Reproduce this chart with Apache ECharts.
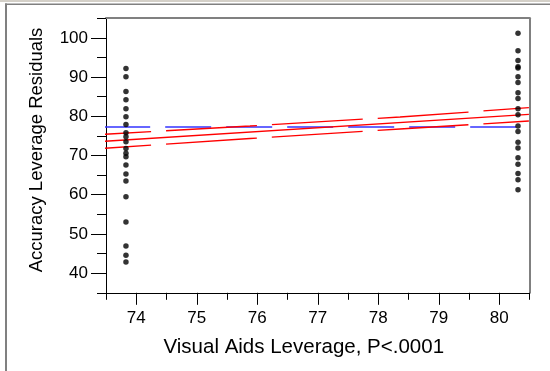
<!DOCTYPE html>
<html>
<head>
<meta charset="utf-8">
<script src="https://cdn.jsdelivr.net/npm/echarts@6/dist/echarts.min.js"></script>
<style>
html,body{margin:0;padding:0;background:#fff;}
#c{width:550px;height:371px;}
</style>
</head>
<body>
<div id="c"></div>
<script>
// ---- data ----
const xMajorTicks = [74, 75, 76, 77, 78, 79, 80];
const xMinorTicks = [73.5, 74.5, 75.5, 76.5, 77.5, 78.5, 79.5, 80.5];
const yMajorTicks = [40, 50, 60, 70, 80, 90, 100];
const yMinorTicks = [35, 45, 55, 65, 75, 85, 95, 105];

const leftGroupX = 73.83;
const leftGroupY = [92.2, 90.1, 86.3, 84.2, 81.9, 79.9, 77.9, 75.8, 74.8, 73.5, 71.8, 70.6, 69.7, 67.6, 65.3, 63.5, 59.5, 53.05, 46.9, 44.6, 42.85];
const rightGroupX = 80.31;
const rightGroupY = [101.15, 96.7, 94.2, 92.6, 92.3, 90.1, 88.6, 86.0, 84.5, 81.9, 80.4, 77.5, 76.1, 73.4, 71.9, 69.4, 67.8, 65.4, 63.8, 61.3];

const meanX = [73.47, 80.5];
const meanY = [77.25, 77.25];
const fitX = [73.47, 80.49];
const fitY = [73.62, 80.5];
const bandX = [73.47, 75.88, 78.36, 80.49];
const upperY = [75.41, 77.52, 79.82, 82.19];
const lowerY = [71.84, 74.33, 76.76, 78.80];

const xTitle = 'Visual Aids Leverage, P<.0001';
const yTitle = 'Accuracy Leverage Residuals';

// ---- build ----
const zip = (xs, ys) => ys.map((y, i) => [Array.isArray(xs) ? xs[i] : xs, y]);
const FONT = 'Liberation Sans, Arial, sans-serif';

const chart = echarts.init(document.getElementById('c'), null, {renderer: 'canvas'});
const xRange = {min: 73.5, max: 80.5};
const yRange = {min: 35, max: 105};

chart.setOption({
  animation: false,
  backgroundColor: '#ffffff',
  grid: {left: 106, right: 20.5, top: 18.2, bottom: 78.2, containLabel: false},
  graphic: [
    {type: 'rect', shape: {x: 0, y: 0, width: 550, height: 2}, style: {fill: '#d4d0c8'}, silent: true},
    {type: 'rect', shape: {x: 5, y: 3.5, width: 545, height: 1.5}, style: {fill: '#808080'}, silent: true},
    {type: 'rect', shape: {x: 5, y: 3.5, width: 2, height: 368}, style: {fill: '#808080'}, silent: true}
  ],
  xAxis: [
    {
      type: 'value', position: 'bottom', ...xRange,
      splitLine: {show: false},
      axisLine: {show: true, lineStyle: {color: '#000', width: 1}},
      axisTick: {show: true, customValues: xMajorTicks, length: 12, lineStyle: {color: '#000', width: 1}},
      axisLabel: {customValues: xMajorTicks, margin: 17, color: '#000', fontSize: 17, fontFamily: FONT},
      name: xTitle, nameLocation: 'middle', nameGap: 44,
      nameTextStyle: {color: '#000', fontSize: 20.5, fontFamily: FONT, padding: [0, 28, 0, 0]}
    },
    {
      type: 'value', position: 'bottom', ...xRange,
      splitLine: {show: false},
      axisLine: {show: false},
      axisTick: {show: true, customValues: xMinorTicks, length: 7, lineStyle: {color: '#000', width: 1}},
      axisLabel: {show: false}
    },
    {
      type: 'value', position: 'top', ...xRange,
      splitLine: {show: false},
      axisLine: {show: true, lineStyle: {color: '#808080', width: 2}},
      axisTick: {show: false}, axisLabel: {show: false}
    }
  ],
  yAxis: [
    {
      type: 'value', position: 'left', ...yRange,
      splitLine: {show: false},
      axisLine: {show: true, lineStyle: {color: '#000', width: 1}},
      axisTick: {show: true, customValues: yMajorTicks, length: 15, lineStyle: {color: '#000', width: 1}},
      axisLabel: {customValues: yMajorTicks, margin: 18, color: '#000', fontSize: 17, fontFamily: FONT},
      name: yTitle, nameLocation: 'middle', nameGap: 60, nameRotate: 90,
      nameTextStyle: {color: '#000', fontSize: 18.5, fontFamily: FONT, padding: [0, 0, 0, 11]}
    },
    {
      type: 'value', position: 'left', ...yRange,
      splitLine: {show: false},
      axisLine: {show: false},
      axisTick: {show: true, customValues: yMinorTicks, length: 9, lineStyle: {color: '#000', width: 1}},
      axisLabel: {show: false}
    },
    {
      type: 'value', position: 'right', ...yRange,
      splitLine: {show: false},
      axisLine: {show: true, lineStyle: {color: '#808080', width: 2}},
      axisTick: {show: false}, axisLabel: {show: false}
    }
  ],
  series: [
    {type: 'line', data: zip(meanX, meanY), symbol: 'none', silent: true, z: 2,
      lineStyle: {color: '#3535ff', width: 1.4, type: [46, 15], dashOffset: 0}},
    {type: 'line', data: zip(bandX, upperY), symbol: 'none', silent: true, z: 3,
      lineStyle: {color: '#ff0000', width: 1.3, type: [91, 15], dashOffset: 44}},
    {type: 'line', data: zip(bandX, lowerY), symbol: 'none', silent: true, z: 3,
      lineStyle: {color: '#ff0000', width: 1.3, type: [91, 15], dashOffset: 44}},
    {type: 'line', data: zip(fitX, fitY), symbol: 'none', silent: true, z: 3,
      lineStyle: {color: '#ff0000', width: 1.3, type: 'solid'}},
    {type: 'scatter', data: zip(leftGroupX, leftGroupY), symbol: 'circle', symbolSize: 5.5,
      itemStyle: {color: '#000'}, z: 5},
    {type: 'scatter', data: zip(rightGroupX, rightGroupY), symbol: 'circle', symbolSize: 5.5,
      itemStyle: {color: '#000'}, z: 5}
  ]
});
</script>
</body>
</html>
